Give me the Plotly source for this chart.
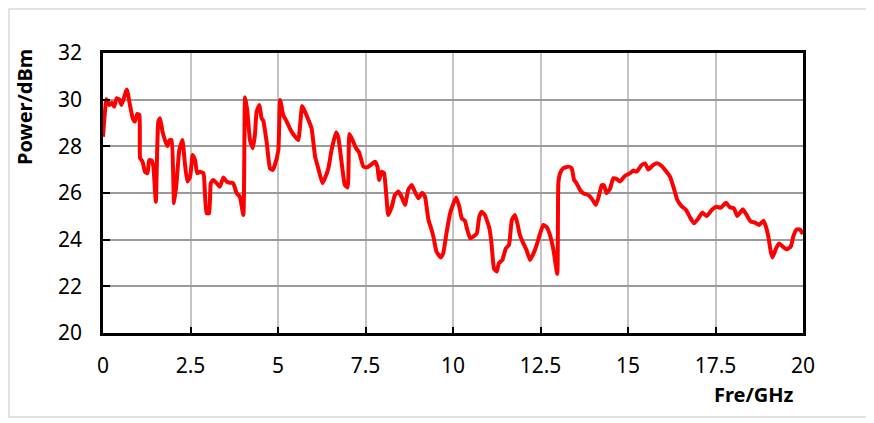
import plotly.graph_objects as go

fre_ghz = [
    0.00, 0.10, 0.18, 0.25, 0.32, 0.39, 0.47, 0.53, 0.68, 0.77, 0.85, 0.91, 0.98, 1.04,
    1.06, 1.13, 1.20, 1.27, 1.32, 1.39, 1.44, 1.51, 1.58, 1.63, 1.70, 1.77, 1.84, 1.90,
    1.96, 2.03, 2.10, 2.18, 2.27, 2.34, 2.41, 2.49, 2.56, 2.63, 2.69, 2.77, 2.87, 2.91,
    2.96, 3.03, 3.08, 3.15, 3.25, 3.34, 3.44, 3.53, 3.63, 3.72, 3.82, 3.91, 4.01, 4.06,
    4.12, 4.20, 4.28, 4.34, 4.39, 4.47, 4.53, 4.58, 4.68, 4.77, 4.85, 4.91, 5.01, 5.06,
    5.15, 5.25, 5.36, 5.49, 5.58, 5.69, 5.77, 5.87, 5.96, 6.06, 6.15, 6.27, 6.34, 6.44,
    6.53, 6.66, 6.72, 6.82, 6.91, 6.99, 7.04, 7.13, 7.23, 7.32, 7.44, 7.55, 7.68, 7.77,
    7.84, 7.89, 7.96, 8.03, 8.15, 8.25, 8.34, 8.44, 8.53, 8.63, 8.72, 8.82, 8.91, 9.01,
    9.12, 9.20, 9.30, 9.39, 9.44, 9.53, 9.65, 9.72, 9.82, 9.93, 10.09, 10.18, 10.25, 10.34,
    10.41, 10.49, 10.58, 10.68, 10.75, 10.82, 10.91, 11.04, 11.10, 11.17, 11.25, 11.31, 11.41, 11.51,
    11.60, 11.68, 11.77, 11.85, 11.91, 12.01, 12.10, 12.20, 12.30, 12.39, 12.49, 12.58, 12.68, 12.77,
    12.87, 12.98, 13.01, 13.06, 13.15, 13.30, 13.39, 13.46, 13.53, 13.63, 13.72, 13.87, 13.96, 14.08,
    14.15, 14.25, 14.31, 14.39, 14.49, 14.58, 14.68, 14.77, 14.91, 15.06, 15.15, 15.25, 15.39, 15.49,
    15.58, 15.72, 15.84, 15.96, 16.06, 16.20, 16.31, 16.41, 16.53, 16.66, 16.77, 16.89, 17.01, 17.12,
    17.25, 17.39, 17.52, 17.65, 17.80, 17.91, 18.03, 18.12, 18.28, 18.39, 18.51, 18.63, 18.75, 18.87,
    18.94, 19.01, 19.08, 19.13, 19.23, 19.32, 19.42, 19.53, 19.65, 19.72, 19.82, 19.91, 20.00,
]
power_dbm = [
    28.41, 30.02, 29.77, 29.87, 29.70, 30.06, 30.00, 29.77, 30.44, 29.77, 29.20, 29.06, 29.39, 29.34,
    27.49, 27.34, 26.91, 26.85, 27.41, 27.39, 27.13, 25.63, 29.06, 29.20, 28.63, 28.27, 28.01, 28.27,
    28.27, 25.56, 26.42, 27.84, 28.27, 27.27, 26.49, 26.70, 27.63, 27.41, 26.85, 26.91, 26.85, 26.06,
    25.13, 25.13, 26.42, 26.56, 26.42, 26.27, 26.67, 26.49, 26.44, 26.42, 25.99, 25.84, 25.06, 30.10,
    29.56, 28.27, 27.92, 28.49, 29.49, 29.77, 29.20, 29.10, 28.13, 27.06, 26.99, 27.20, 27.84, 29.99,
    29.34, 29.06, 28.70, 28.41, 28.27, 29.73, 29.49, 29.13, 28.77, 27.56, 27.06, 26.42, 26.63, 27.06,
    27.84, 28.59, 28.41, 27.27, 26.34, 26.24, 28.53, 28.27, 27.92, 27.73, 27.13, 27.10, 27.24, 27.34,
    27.13, 26.56, 26.91, 26.85, 25.06, 25.41, 25.91, 26.06, 25.84, 25.49, 26.13, 26.34, 26.06, 25.77,
    26.01, 25.84, 24.84, 24.41, 24.13, 23.48, 23.24, 23.41, 24.34, 25.20, 25.81, 25.41, 24.91, 24.81,
    24.41, 24.06, 24.13, 24.27, 24.98, 25.20, 25.06, 24.49, 23.84, 22.77, 22.63, 22.99, 23.13, 23.63,
    23.77, 24.84, 25.06, 24.63, 24.20, 23.84, 23.56, 23.13, 23.41, 23.77, 24.27, 24.63, 24.53, 24.20,
    23.56, 22.53, 26.42, 26.85, 27.06, 27.13, 27.06, 26.56, 26.42, 26.13, 25.99, 25.91, 25.77, 25.49,
    25.77, 26.34, 26.34, 25.99, 26.20, 26.63, 26.60, 26.49, 26.73, 26.85, 26.96, 26.92, 27.20, 27.27,
    27.01, 27.20, 27.27, 27.16, 26.99, 26.70, 26.20, 25.70, 25.44, 25.27, 24.96, 24.70, 24.91, 25.16,
    25.01, 25.27, 25.41, 25.37, 25.58, 25.39, 25.34, 25.01, 25.30, 25.06, 24.77, 24.73, 24.63, 24.81,
    24.56, 24.13, 23.48, 23.24, 23.63, 23.84, 23.70, 23.59, 23.70, 24.13, 24.44, 24.44, 24.24,
]

x_ticks = [0, 2.5, 5, 7.5, 10, 12.5, 15, 17.5, 20]
x_ticklabels = ["0", "2.5", "5", "7.5", "10", "12.5", "15", "17.5", "20"]
y_ticks = [20, 22, 24, 26, 28, 30, 32]

# the page puts the figure 8px in from the window corner, so work in
# window pixels and subtract that offset
OFF = 8
W, H = 874 - OFF, 423 - OFF
PL, PR, PT, PB = 103, 803, 53, 333   # plot box in window pixels
ML, MT = PL - OFF, PT - OFF
MR, MB = W - (PR - OFF), H - (PB - OFF)
PW, PH = PR - PL, PB - PT

def px_x(p):
    return (p - PL) / PW

def px_y(p):
    return (PB - p) / PH

FONT = "Noto Sans"

fig = go.Figure()
fig.add_trace(go.Scatter(
    x=fre_ghz, y=power_dbm,
    mode="lines",
    line=dict(color="#ff0000", width=4, shape="spline", smoothing=0.4),
    showlegend=False,
))

fig.update_layout(
    width=W, height=H,
    margin=dict(l=ML, r=MR, t=MT, b=MB),
    paper_bgcolor="white",
    plot_bgcolor="white",
    font=dict(family=FONT, size=21, color="black"),
)

fig.update_xaxes(
    range=[0, 20],
    tickvals=x_ticks, ticktext=x_ticklabels,
    showgrid=True, gridcolor="#c4c4c4", gridwidth=1.5,
    showline=True, linecolor="black", linewidth=2.5, mirror=True,
    ticks="inside", ticklen=6, tickcolor="black", tickwidth=1.5,
    ticklabelstandoff=12,
    zeroline=False,
)
fig.update_yaxes(
    range=[20, 32],
    tickvals=y_ticks,
    showgrid=True, gridcolor="#9a9a9a", gridwidth=1.5,
    showline=True, linecolor="black", linewidth=2.5, mirror=True,
    ticks="inside", ticklen=7, tickcolor="black", tickwidth=1.5,
    ticklabelstandoff=14,
    zeroline=False,
)

# axis titles placed where the reference puts them
fig.add_annotation(
    x=px_x(754), y=px_y(394), xref="paper", yref="paper",
    xanchor="center", yanchor="middle",
    text="<b>Fre/GHz</b>", showarrow=False,
    font=dict(family=FONT, size=20, color="black"),
)
fig.add_annotation(
    x=px_x(24), y=px_y(107), xref="paper", yref="paper",
    xanchor="center", yanchor="middle",
    text="<b>Power/dBm</b>", showarrow=False, textangle=-90,
    font=dict(family=FONT, size=20, color="black"),
)

# light chart-area frame
fig.add_shape(
    type="rect", xref="paper", yref="paper",
    x0=px_x(OFF + 1), x1=px_x(868), y0=px_y(417), y1=px_y(OFF + 1),
    line=dict(color="#d9d9d9", width=1.5), layer="below",
)

fig.write_html("out.html")
